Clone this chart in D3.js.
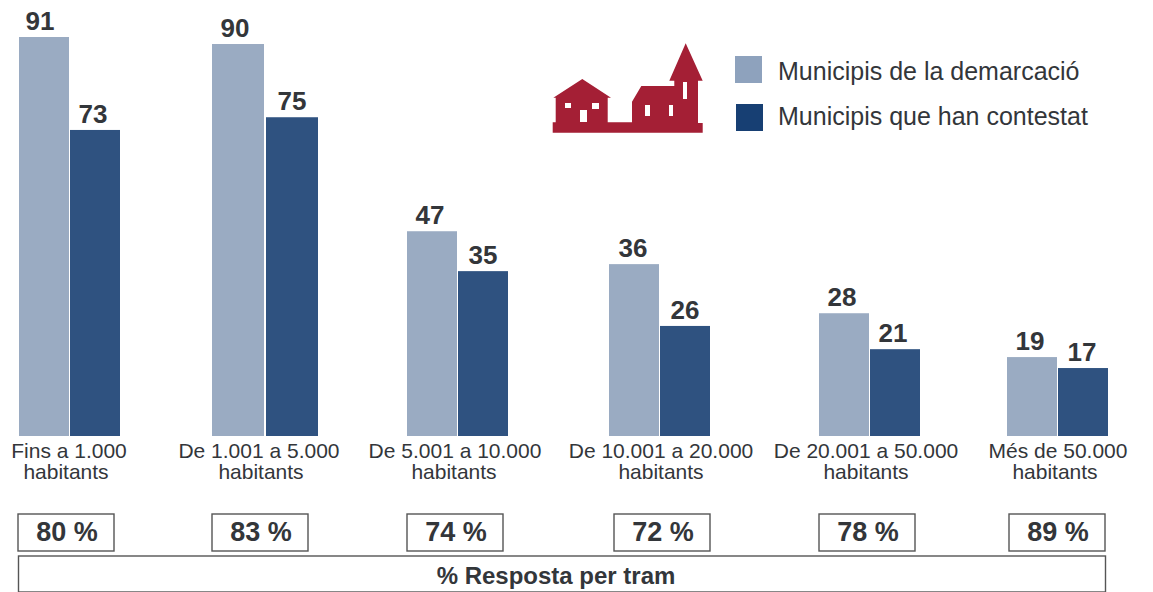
<!DOCTYPE html>
<html>
<head>
<meta charset="utf-8">
<script src="https://cdnjs.cloudflare.com/ajax/libs/d3/7.8.5/d3.min.js"></script>
<style>
	html, body { margin: 0; padding: 0; background: #fff; overflow: hidden; }
	svg { display: block; }
	text { font-family: "Liberation Sans", sans-serif; fill: #33363a; }
	.val { font-size: 26px; font-weight: bold; text-anchor: middle; }
	.cat { font-size: 21px; text-anchor: middle; }
	.pct { font-size: 27px; font-weight: bold; text-anchor: middle; }
	.leg { font-size: 25px; }
</style>
</head>
<body>
<svg id="chart" width="1153" height="592"></svg>
<script>
'use strict';

const trams = ["Fins a 1.000", "De 1.001 a 5.000", "De 5.001 a 10.000", "De 10.001 a 20.000", "De 20.001 a 50.000", "Més de 50.000"];
const seriesNames = ["Municipis de la demarcació", "Municipis que han contestat"];

// printed labels
const demarcacio = [91, 90, 47, 36, 28, 19];
const contestat = [73, 75, 35, 26, 21, 17];
const resposta = [80, 83, 74, 72, 78, 89];

// height of the bars as drawn in the picture, they are not quite to scale with the labels
const demarcacioDrawn = [91, 89.4, 46.7, 39.2, 28, 18];
const contestatDrawn = [69.8, 72.7, 37.6, 25.1, 19.8, 15.5];

const svg = d3.select("#chart");

const y = d3.scaleLinear().domain([0, 91]).range([436, 37]);

// groups are not evenly spaced in the original
const groupX = d3.scaleOrdinal().domain(trams).range([19, 212, 407, 609, 819, 1007]);
const groupW = d3.scaleOrdinal().domain(trams).range([50, 52, 50, 50, 50, 50]);
const groupGap = d3.scaleOrdinal().domain(trams).range([1, 2, 1, 1, 1, 1]);
const labelX = d3.scaleOrdinal().domain(trams).range([69, 259, 455, 661, 866, 1058]);
const habitantsX = d3.scaleOrdinal().domain(trams).range([66, 261, 454, 661, 866, 1055]);
const boxX = d3.scaleOrdinal().domain(trams).range([18, 212, 407, 614, 819, 1009]);
const lightLabelX = d3.scaleOrdinal().domain(trams).range([40, 235, 430, 633, 842, 1030]);
const darkLabelX = d3.scaleOrdinal().domain(trams).range([93, 292, 483, 685, 893, 1082]);

const barColor = d3.scaleOrdinal().domain(seriesNames).range(["#9aabc2", "#2f5280"]);
const legendColor = d3.scaleOrdinal().domain(seriesNames).range(["#8ea2bd", "#173f73"]);

const rows = trams.map(function(t, i){
	return {tram: t, i: i};
});

const groups = svg.selectAll(".group")
	.data(rows)
	.enter()
	.append("g")
	.attr("class", "group");

// light bars
groups.append("rect")
	.attr("x", function(d) { return groupX(d.tram); })
	.attr("y", function(d) { return y(demarcacioDrawn[d.i]); })
	.attr("width", function(d) { return groupW(d.tram); })
	.attr("height", function(d) { return y(0) - y(demarcacioDrawn[d.i]); })
	.attr("fill", barColor(seriesNames[0]));

// dark bars
groups.append("rect")
	.attr("x", function(d) { return groupX(d.tram) + groupW(d.tram) + groupGap(d.tram); })
	.attr("y", function(d) { return y(contestatDrawn[d.i]); })
	.attr("width", function(d) { return groupW(d.tram); })
	.attr("height", function(d) { return y(0) - y(contestatDrawn[d.i]); })
	.attr("fill", barColor(seriesNames[1]));

groups.append("text")
	.attr("class", "val")
	.attr("x", function(d) { return lightLabelX(d.tram); })
	.attr("y", function(d) { return y(demarcacioDrawn[d.i]) - 7; })
	.text(function(d) { return demarcacio[d.i]; });

groups.append("text")
	.attr("class", "val")
	.attr("x", function(d) { return darkLabelX(d.tram); })
	.attr("y", function(d) { return y(contestatDrawn[d.i]) - 7; })
	.text(function(d) { return contestat[d.i]; });

groups.append("text")
	.attr("class", "cat")
	.attr("x", function(d) { return labelX(d.tram); })
	.attr("y", 458)
	.text(function(d) { return d.tram; });

groups.append("text")
	.attr("class", "cat")
	.attr("x", function(d) { return habitantsX(d.tram); })
	.attr("y", 479)
	.text("habitants");

groups.append("rect")
	.attr("x", function(d) { return boxX(d.tram); })
	.attr("y", 514)
	.attr("width", 96)
	.attr("height", 37)
	.attr("fill", "#fff")
	.attr("stroke", "#555")
	.attr("stroke-width", 1.4);

groups.append("text")
	.attr("class", "pct")
	.attr("x", function(d) { return boxX(d.tram) + 49; })
	.attr("y", 541)
	.text(function(d) { return resposta[d.i] + " %"; });

svg.append("rect")
	.attr("x", 18.5)
	.attr("y", 556)
	.attr("width", 1087)
	.attr("height", 36)
	.attr("fill", "#fff")
	.attr("stroke", "#555")
	.attr("stroke-width", 1.4);

svg.append("text")
	.attr("x", 556)
	.attr("y", 584)
	.attr("text-anchor", "middle")
	.style("font-size", "24px")
	.style("font-weight", "bold")
	.text("% Resposta per tram");

// legend
const legend = svg.selectAll(".legend")
	.data(seriesNames)
	.enter()
	.append("g")
	.attr("class", "legend");

legend.append("rect")
	.attr("x", function(d, i) { return 735 + i; })
	.attr("y", function(d, i) { return 56 + i * 48; })
	.attr("width", 27)
	.attr("height", 27)
	.attr("fill", function(d) { return legendColor(d); });

legend.append("text")
	.attr("class", "leg")
	.attr("x", 778)
	.attr("y", function(d, i) { return 80 + i * 44.5; })
	.text(function(d) { return d; });

// village icon
svg.append("path")
	.attr("fill", "#a41f35")
	.attr("d", "M553.3,97.7 L582.3,79 L611,97.7 L607.7,97.7 L607.7,122.3 L632,122.3 L632,101.7 L641.3,86 L674.3,86 L674.3,80.7 L669.3,80.7 L685.7,43.3 L702.7,80.7 L698,80.7 L698,123 L702.7,123 L702.7,132.7 L552.7,132.7 L552.7,122.3 L555.7,122.3 L555.7,97.7 Z");

const windows = [[565, 103, 6, 5], [592, 103, 7, 6], [580, 110, 7, 12], [645, 105, 5, 11], [669, 105, 4, 11], [683, 82, 4, 17]];
svg.selectAll(".win")
	.data(windows)
	.enter()
	.append("rect")
	.attr("class", "win")
	.attr("x", function(d) { return d[0]; })
	.attr("y", function(d) { return d[1]; })
	.attr("width", function(d) { return d[2]; })
	.attr("height", function(d) { return d[3]; })
	.attr("fill", "#fff");
</script>
</body>
</html>
